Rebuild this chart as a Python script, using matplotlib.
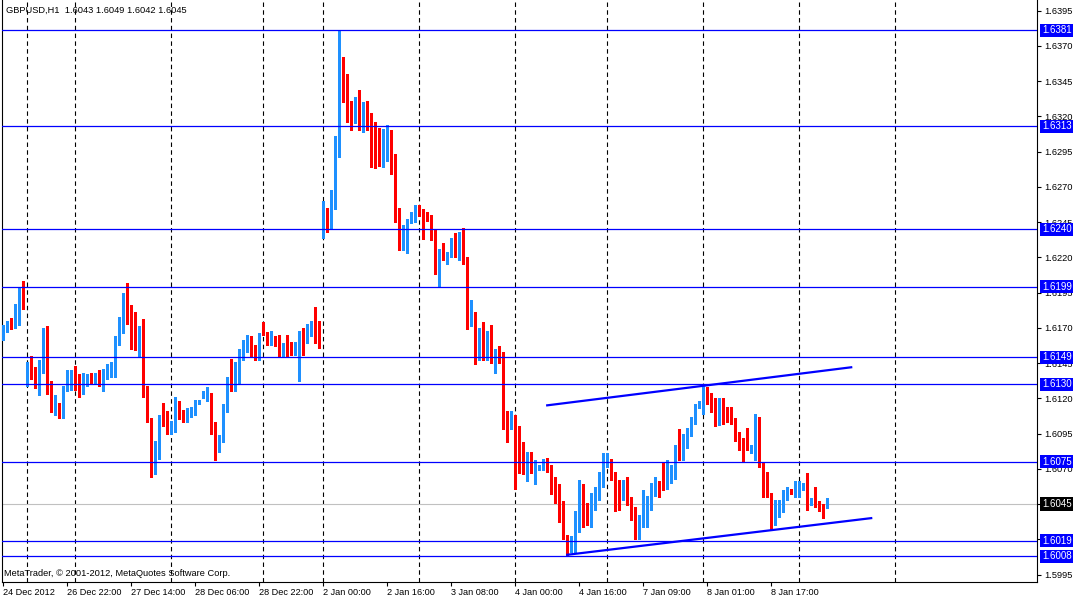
import numpy as np
import matplotlib
matplotlib.use('Agg')
import matplotlib.pyplot as plt
from matplotlib import transforms
from matplotlib.ticker import FormatStrFormatter

# GBPUSD H1 bars
o = [1.6162, 1.6169, 1.6174, 1.6171, 1.6179, 1.6188, 1.6133, 1.6143, 1.6137, 1.6129,
     1.6140, 1.6167, 1.6123, 1.6114, 1.6116, 1.6108, 1.6127, 1.6135, 1.6135, 1.6134,
     1.6125, 1.6133, 1.6135, 1.6133, 1.6135, 1.6135, 1.6137, 1.6137, 1.6142, 1.6162,
     1.6169, 1.6194, 1.6174, 1.6169, 1.6159, 1.6158, 1.6125, 1.6104, 1.6073, 1.6088,
     1.6107, 1.6102, 1.6096, 1.6101, 1.6115, 1.6111, 1.6106, 1.6108, 1.6108, 1.6117,
     1.6120, 1.6120, 1.6120, 1.6096, 1.6083, 1.6091, 1.6113, 1.6133, 1.6130, 1.6132,
     1.6153, 1.6155, 1.6159, 1.6155, 1.6149, 1.6173, 1.6165, 1.6159, 1.6163, 1.6157,
     1.6152, 1.6157, 1.6154, 1.6152, 1.6151, 1.6167, 1.6166, 1.6165, 1.6175, 1.6166,
     1.6254, 1.6254, 1.6244, 1.6258, 1.6293, 1.6355, 1.6349, 1.6320, 1.6316, 1.6322,
     1.6310, 1.6324, 1.6316, 1.6297, 1.6294, 1.6293, 1.6293, 1.6305, 1.6286, 1.6252,
     1.6228, 1.6232, 1.6245, 1.6249, 1.6254, 1.6252, 1.6250, 1.6249, 1.6240, 1.6210,
     1.6225, 1.6220, 1.6221, 1.6233, 1.6223, 1.6238, 1.6220, 1.6172, 1.6179, 1.6154,
     1.6168, 1.6155, 1.6160, 1.6148, 1.6153, 1.6153, 1.6105, 1.6100, 1.6108, 1.6081,
     1.6075, 1.6064, 1.6081, 1.6064, 1.6069, 1.6072, 1.6077, 1.6073, 1.6054, 1.6048,
     1.6047, 1.6023, 1.6014, 1.6012, 1.6031, 1.6058, 1.6036, 1.6035, 1.6043, 1.6050,
     1.6062, 1.6072, 1.6076, 1.6067, 1.6062, 1.6053, 1.6061, 1.6046, 1.6043, 1.6025,
     1.6037, 1.6039, 1.6044, 1.6052, 1.6057, 1.6057, 1.6057, 1.6064, 1.6064, 1.6082,
     1.6079, 1.6091, 1.6096, 1.6106, 1.6115, 1.6115, 1.6127, 1.6122, 1.6113, 1.6108,
     1.6112, 1.6112, 1.6109, 1.6105, 1.6096, 1.6092, 1.6089, 1.6084, 1.6086, 1.6101,
     1.6074, 1.6057, 1.6052, 1.6035, 1.6037, 1.6040, 1.6054, 1.6055, 1.6054, 1.6053,
     1.6056, 1.6059, 1.6045, 1.6049, 1.6043, 1.6043, 1.6043]
h = [1.6172, 1.6175, 1.6177, 1.6187, 1.6199, 1.6203, 1.6146, 1.6150, 1.6142, 1.6147,
     1.6170, 1.6171, 1.6132, 1.6122, 1.6117, 1.6129, 1.6140, 1.6140, 1.6143, 1.6137,
     1.6138, 1.6137, 1.6138, 1.6138, 1.6140, 1.6141, 1.6144, 1.6146, 1.6164, 1.6178,
     1.6195, 1.6202, 1.6186, 1.6181, 1.6171, 1.6176, 1.6129, 1.6106, 1.6090, 1.6108,
     1.6117, 1.6111, 1.6104, 1.6121, 1.6118, 1.6112, 1.6113, 1.6114, 1.6119, 1.6119,
     1.6125, 1.6128, 1.6124, 1.6103, 1.6094, 1.6116, 1.6135, 1.6148, 1.6146, 1.6155,
     1.6161, 1.6165, 1.6164, 1.6158, 1.6166, 1.6174, 1.6167, 1.6168, 1.6164, 1.6165,
     1.6159, 1.6165, 1.6160, 1.6160, 1.6168, 1.6170, 1.6173, 1.6175, 1.6185, 1.6175,
     1.6260, 1.6255, 1.6268, 1.6306, 1.6381, 1.6362, 1.6350, 1.6331, 1.6334, 1.6339,
     1.6330, 1.6331, 1.6322, 1.6316, 1.6312, 1.6311, 1.6314, 1.6310, 1.6293, 1.6255,
     1.6243, 1.6247, 1.6252, 1.6257, 1.6257, 1.6254, 1.6252, 1.6250, 1.6240, 1.6226,
     1.6230, 1.6224, 1.6234, 1.6237, 1.6238, 1.6241, 1.6220, 1.6190, 1.6181, 1.6170,
     1.6174, 1.6168, 1.6172, 1.6155, 1.6157, 1.6153, 1.6111, 1.6111, 1.6108, 1.6100,
     1.6089, 1.6082, 1.6082, 1.6076, 1.6073, 1.6077, 1.6078, 1.6073, 1.6064, 1.6059,
     1.6047, 1.6023, 1.6022, 1.6040, 1.6062, 1.6059, 1.6046, 1.6053, 1.6057, 1.6068,
     1.6081, 1.6081, 1.6077, 1.6068, 1.6062, 1.6062, 1.6064, 1.6050, 1.6043, 1.6037,
     1.6055, 1.6051, 1.6060, 1.6064, 1.6061, 1.6074, 1.6076, 1.6073, 1.6087, 1.6098,
     1.6095, 1.6099, 1.6107, 1.6116, 1.6118, 1.6130, 1.6128, 1.6124, 1.6120, 1.6120,
     1.6120, 1.6114, 1.6114, 1.6106, 1.6096, 1.6092, 1.6099, 1.6087, 1.6109, 1.6107,
     1.6075, 1.6068, 1.6053, 1.6048, 1.6048, 1.6055, 1.6057, 1.6056, 1.6061, 1.6061,
     1.6060, 1.6067, 1.6049, 1.6057, 1.6047, 1.6045, 1.6049]
l = [1.6161, 1.6167, 1.6169, 1.6170, 1.6172, 1.6183, 1.6129, 1.6134, 1.6127, 1.6122,
     1.6138, 1.6123, 1.6110, 1.6108, 1.6106, 1.6106, 1.6125, 1.6126, 1.6126, 1.6121,
     1.6123, 1.6129, 1.6131, 1.6131, 1.6129, 1.6125, 1.6134, 1.6135, 1.6135, 1.6158,
     1.6166, 1.6173, 1.6155, 1.6154, 1.6149, 1.6121, 1.6103, 1.6064, 1.6066, 1.6077,
     1.6100, 1.6095, 1.6095, 1.6096, 1.6105, 1.6103, 1.6103, 1.6107, 1.6108, 1.6116,
     1.6120, 1.6118, 1.6095, 1.6076, 1.6082, 1.6089, 1.6110, 1.6125, 1.6125, 1.6131,
     1.6147, 1.6153, 1.6149, 1.6147, 1.6147, 1.6165, 1.6158, 1.6158, 1.6157, 1.6149,
     1.6149, 1.6150, 1.6151, 1.6151, 1.6132, 1.6151, 1.6159, 1.6164, 1.6159, 1.6156,
     1.6234, 1.6238, 1.6240, 1.6254, 1.6291, 1.6330, 1.6316, 1.6310, 1.6315, 1.6310,
     1.6309, 1.6310, 1.6284, 1.6283, 1.6285, 1.6284, 1.6288, 1.6279, 1.6245, 1.6225,
     1.6225, 1.6223, 1.6244, 1.6245, 1.6249, 1.6233, 1.6246, 1.6232, 1.6208, 1.6199,
     1.6218, 1.6215, 1.6220, 1.6220, 1.6218, 1.6215, 1.6169, 1.6171, 1.6144, 1.6147,
     1.6147, 1.6147, 1.6145, 1.6138, 1.6145, 1.6098, 1.6089, 1.6098, 1.6056, 1.6067,
     1.6066, 1.6061, 1.6067, 1.6059, 1.6069, 1.6069, 1.6068, 1.6052, 1.6046, 1.6032,
     1.6020, 1.6008, 1.6011, 1.6011, 1.6025, 1.6029, 1.6030, 1.6029, 1.6041, 1.6048,
     1.6057, 1.6071, 1.6062, 1.6040, 1.6041, 1.6048, 1.6044, 1.6034, 1.6020, 1.6020,
     1.6029, 1.6029, 1.6041, 1.6051, 1.6050, 1.6055, 1.6056, 1.6060, 1.6063, 1.6076,
     1.6076, 1.6085, 1.6093, 1.6102, 1.6113, 1.6109, 1.6116, 1.6110, 1.6100, 1.6101,
     1.6102, 1.6103, 1.6102, 1.6090, 1.6083, 1.6075, 1.6083, 1.6081, 1.6076, 1.6071,
     1.6050, 1.6050, 1.6027, 1.6030, 1.6036, 1.6039, 1.6048, 1.6052, 1.6050, 1.6050,
     1.6055, 1.6041, 1.6044, 1.6043, 1.6040, 1.6035, 1.6042]
c = [1.6169, 1.6173, 1.6171, 1.6181, 1.6191, 1.6184, 1.6142, 1.6138, 1.6128, 1.6142,
     1.6165, 1.6123, 1.6118, 1.6115, 1.6107, 1.6129, 1.6135, 1.6136, 1.6132, 1.6122,
     1.6135, 1.6134, 1.6132, 1.6134, 1.6132, 1.6136, 1.6139, 1.6139, 1.6163, 1.6168,
     1.6192, 1.6174, 1.6167, 1.6159, 1.6160, 1.6123, 1.6105, 1.6072, 1.6087, 1.6106,
     1.6103, 1.6098, 1.6101, 1.6113, 1.6113, 1.6105, 1.6110, 1.6111, 1.6119, 1.6118,
     1.6123, 1.6123, 1.6096, 1.6083, 1.6090, 1.6113, 1.6132, 1.6132, 1.6131, 1.6153,
     1.6154, 1.6158, 1.6156, 1.6150, 1.6165, 1.6166, 1.6160, 1.6163, 1.6158, 1.6150,
     1.6158, 1.6152, 1.6152, 1.6153, 1.6168, 1.6164, 1.6167, 1.6174, 1.6164, 1.6162,
     1.6255, 1.6242, 1.6255, 1.6287, 1.6354, 1.6346, 1.6318, 1.6316, 1.6321, 1.6311,
     1.6323, 1.6315, 1.6296, 1.6296, 1.6293, 1.6294, 1.6304, 1.6283, 1.6252, 1.6230,
     1.6229, 1.6245, 1.6250, 1.6253, 1.6251, 1.6249, 1.6247, 1.6238, 1.6210, 1.6224,
     1.6220, 1.6221, 1.6232, 1.6221, 1.6237, 1.6217, 1.6172, 1.6178, 1.6152, 1.6169,
     1.6154, 1.6159, 1.6150, 1.6152, 1.6150, 1.6105, 1.6098, 1.6106, 1.6082, 1.6075,
     1.6067, 1.6080, 1.6070, 1.6069, 1.6072, 1.6077, 1.6070, 1.6054, 1.6049, 1.6045,
     1.6020, 1.6015, 1.6015, 1.6032, 1.6057, 1.6034, 1.6034, 1.6046, 1.6052, 1.6062,
     1.6076, 1.6077, 1.6064, 1.6047, 1.6045, 1.6059, 1.6044, 1.6035, 1.6023, 1.6036,
     1.6039, 1.6043, 1.6053, 1.6057, 1.6056, 1.6056, 1.6067, 1.6068, 1.6084, 1.6076,
     1.6089, 1.6096, 1.6105, 1.6114, 1.6116, 1.6126, 1.6118, 1.6111, 1.6106, 1.6111,
     1.6108, 1.6108, 1.6103, 1.6093, 1.6089, 1.6089, 1.6086, 1.6085, 1.6099, 1.6072,
     1.6057, 1.6053, 1.6037, 1.6040, 1.6041, 1.6053, 1.6057, 1.6053, 1.6055, 1.6057,
     1.6058, 1.6045, 1.6048, 1.6044, 1.6041, 1.6042, 1.6045]

date_bars = [0, 16, 32, 48, 64, 80, 96, 112, 128, 144, 160, 176, 192]
date_labels = ['24 Dec 2012', '26 Dec 22:00', '27 Dec 14:00', '28 Dec 06:00',
               '28 Dec 22:00', '2 Jan 00:00', '2 Jan 16:00', '3 Jan 08:00',
               '4 Jan 00:00', '4 Jan 16:00', '7 Jan 09:00', '8 Jan 01:00',
               '8 Jan 17:00']
day_bars = [6, 18, 42, 65, 80, 104, 128, 151, 175, 199, 223]
levels = [1.6381, 1.6313, 1.6240, 1.6199, 1.6149, 1.6130, 1.6075, 1.6019, 1.6008]
bid = 1.6045
upper_x = [136, 212]
upper_y = [1.6115, 1.6142]
lower_x = [141, 217]
lower_y = [1.6009, 1.6035]

plt.rcParams['font.family'] = ['Liberation Sans', 'DejaVu Sans']
fs = 6.7

fig = plt.figure(figsize=(10.75, 5.99), dpi=100)
fig.patch.set_facecolor('white')
ax = fig.add_axes([2 / 1075, 17 / 599, 1035 / 1075, 582 / 599])

o, h, l, c = map(np.array, (o, h, l, c))
x = np.arange(len(o))
col = np.where(c >= o, '#1E90FF', '#FF0000')

for b in day_bars:
    ax.axvline(b, color='black', lw=0.8, linestyle=(0, (4, 3)), zorder=0.5)
ax.axhline(bid, color='#C0C0C0', lw=0.8, zorder=1)

ax.vlines(x, l, h, colors=col, lw=0.8, zorder=3, antialiased=False)
mid = (o + c) / 2
hgt = np.maximum(np.abs(c - o), 0.00008)
ax.bar(x, hgt, bottom=mid - hgt / 2, width=0.75, color=col, linewidth=0,
       zorder=4, antialiased=False)

for lv in levels:
    ax.axhline(lv, color='#0000FF', lw=0.9, zorder=5)
ax.plot(upper_x, upper_y, color='#0000FF', lw=1.6, zorder=5)
ax.plot(lower_x, lower_y, color='#0000FF', lw=1.6, zorder=5)

ax.set_xlim(-0.3, 258.45)
ax.set_ylim(1.59897, 1.64025)

ax.yaxis.tick_right()
ax.set_yticks(np.round(np.arange(1.5995, 1.6396, 0.0025), 4))
ax.yaxis.set_major_formatter(FormatStrFormatter('%.4f'))
ax.tick_params(axis='y', direction='out', length=3, width=0.8, pad=2, labelsize=fs)
ax.set_xticks(date_bars)
ax.set_xticklabels(date_labels, ha='left')
ax.tick_params(axis='x', direction='out', length=3, width=0.8, pad=1.5, labelsize=6.6)
ax.spines['top'].set_visible(False)
for s in ('left', 'right', 'bottom'):
    ax.spines[s].set_linewidth(0.8)

trans = transforms.blended_transform_factory(ax.transAxes, ax.transData)
box_text = dict(transform=trans, color='white', fontsize=7, va='center', ha='left',
                clip_on=False, zorder=6)
for lv in levels:
    ax.text(1.0048, lv, f'{lv:.4f}', **box_text,
            bbox=dict(boxstyle='square,pad=0.16', fc='#0000FF', ec='none'))
ax.text(1.0048, bid, f'{bid:.4f}', **box_text,
        bbox=dict(boxstyle='square,pad=0.16', fc='black', ec='none'))

fig.text(6 / 1075, 1 - 10 / 599, 'GBPUSD,H1  1.6043 1.6049 1.6042 1.6045',
         fontsize=fs, va='center', ha='left')
fig.text(4 / 1075, 1 - 574 / 599, 'MetaTrader, \u00a9 2001-2012, MetaQuotes Software Corp.',
         fontsize=fs, va='center', ha='left')

fig.savefig('out.png', dpi=100, facecolor='white')
